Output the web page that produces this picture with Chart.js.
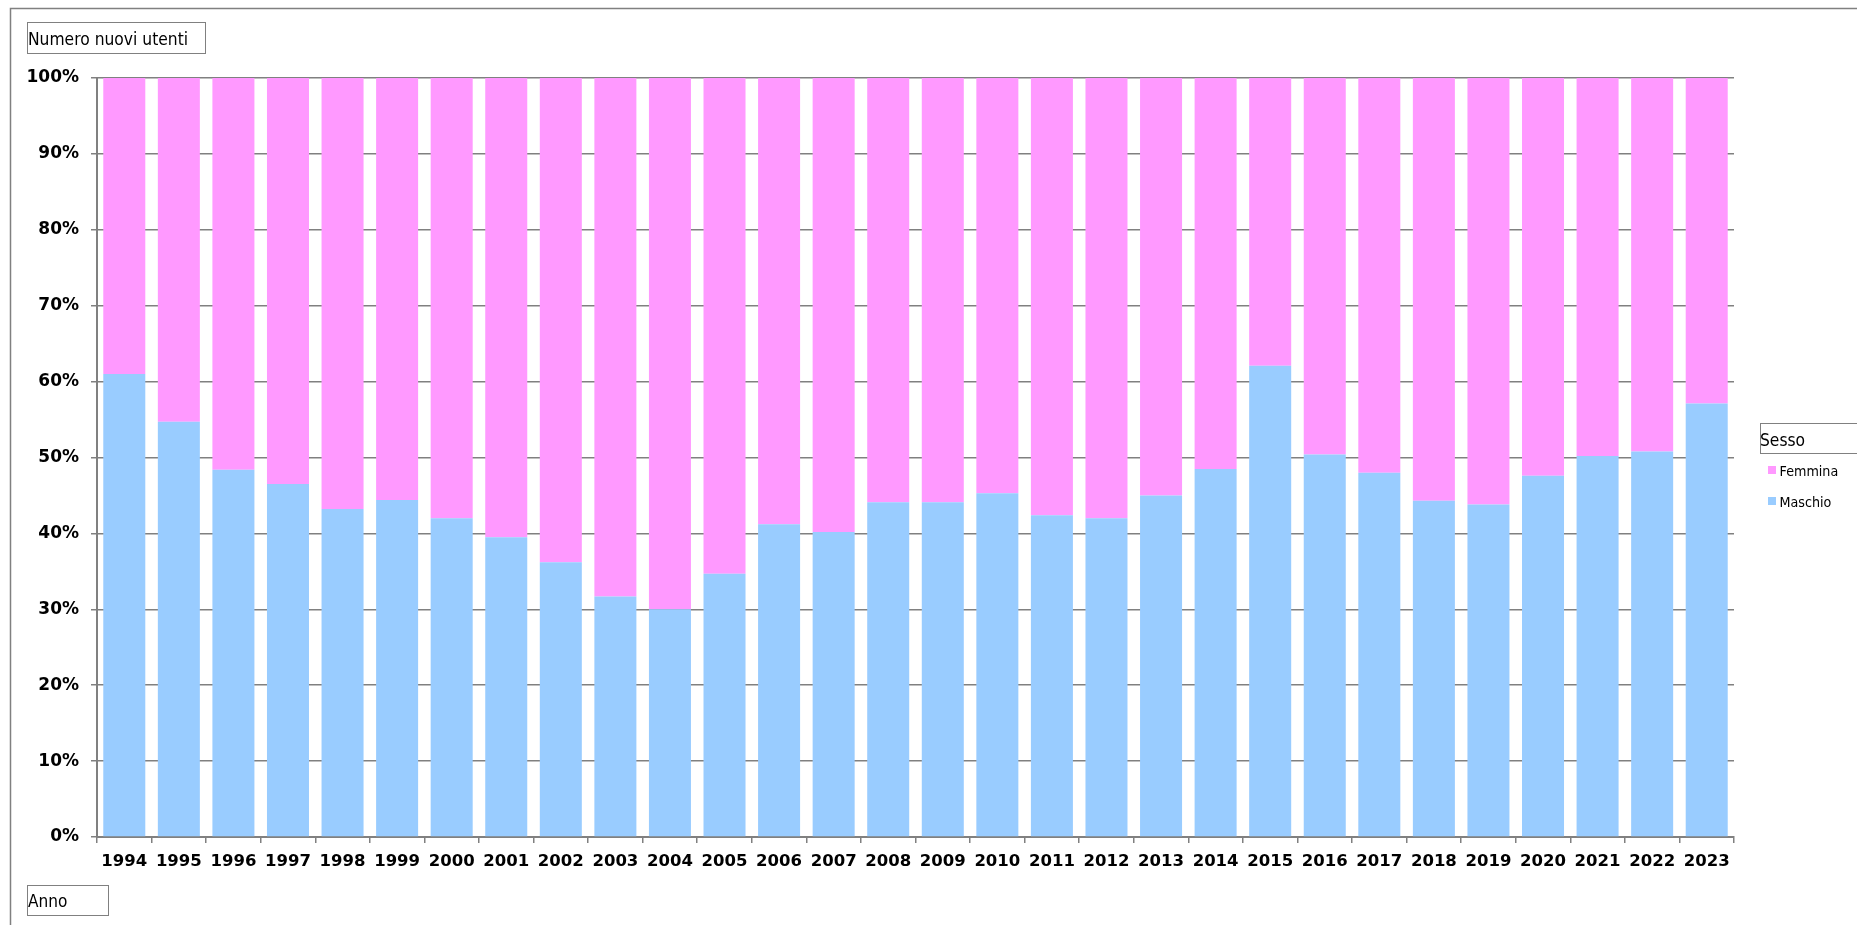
<!DOCTYPE html>
<html>
<head>
<meta charset="utf-8">
<script src="https://cdn.jsdelivr.net/npm/chart.js@4/dist/chart.umd.min.js"></script>
<style>
html,body{margin:0;padding:0;background:#fff;}
canvas{display:block;}
</style>
</head>
<body>
<canvas id="c" width="1857" height="925"></canvas>
<script>
const years = ['1994','1995','1996','1997','1998','1999','2000','2001','2002','2003','2004','2005','2006','2007','2008','2009','2010','2011','2012','2013','2014','2015','2016','2017','2018','2019','2020','2021','2022','2023'];
const maschio = [61.0, 54.7, 48.4, 46.5, 43.2, 44.4, 42.0, 39.5, 36.2, 31.7, 30.0, 34.7, 41.2, 40.2, 44.1, 44.1, 45.3, 42.4, 42.0, 45.0, 48.5, 62.1, 50.4, 48.0, 44.3, 43.8, 47.6, 50.2, 50.8, 57.1];
const femmina = [39.0, 45.3, 51.6, 53.5, 56.8, 55.6, 58.0, 60.5, 63.8, 68.3, 70.0, 65.3, 58.8, 59.8, 55.9, 55.9, 54.7, 57.6, 58.0, 55.0, 51.5, 37.9, 49.6, 52.0, 55.7, 56.2, 52.4, 49.8, 49.2, 42.9];
const seriesNames = ['Maschio', 'Femmina'];
const seriesColors = ['#99CCFF', '#FF99FF'];
const chartTitle = 'Numero nuovi utenti';
const xTitle = 'Anno';
const legendTitle = 'Sesso';

Chart.defaults.font.family = 'DejaVu Sans';

function txt(ctx, s, x, y, size, sx) {
  ctx.save();
  ctx.translate(x, y);
  ctx.scale(sx, 1);
  ctx.font = size + 'px "DejaVu Sans"';
  ctx.textAlign = 'left';
  ctx.textBaseline = 'alphabetic';
  ctx.fillText(s, 0, 0);
  ctx.restore();
}

const decor = {
  id: 'decor',
  afterDraw(chart) {
    const ctx = chart.ctx;
    ctx.save();
    ctx.strokeStyle = '#808080';
    ctx.lineWidth = 1.5;
    ctx.beginPath();
    ctx.moveTo(10.5, 925);
    ctx.lineTo(10.5, 8.5);
    ctx.lineTo(1857, 8.5);
    ctx.stroke();
    ctx.lineWidth = 1;
    ctx.strokeRect(27.5, 22.5, 178, 31);
    ctx.strokeRect(27.5, 885.5, 81, 30);
    ctx.strokeRect(1760.5, 423.5, 110, 30);
    ctx.fillStyle = '#000';
    txt(ctx, chartTitle, 28, 44.5, 18.5, 0.84);
    txt(ctx, xTitle, 28, 906.8, 18.5, 0.83);
    txt(ctx, legendTitle, 1760, 445.8, 18.5, 0.84);
    const ds = chart.data.datasets;
    const order = [1, 0];
    order.forEach((di, k) => {
      const top = 466 + k * 31;
      ctx.fillStyle = ds[di].backgroundColor;
      ctx.fillRect(1768, top, 8, 8);
      ctx.fillStyle = '#000';
      txt(ctx, ds[di].label, 1779.5, top + 9.5, 14, 0.91);
    });
    ctx.restore();
  }
};

new Chart(document.getElementById('c'), {
  type: 'bar',
  data: {
    labels: years,
    datasets: [
      { label: seriesNames[0], data: maschio, backgroundColor: seriesColors[0], borderWidth: 0 },
      { label: seriesNames[1], data: femmina, backgroundColor: seriesColors[1], borderWidth: 0 }
    ]
  },
  options: {
    responsive: false,
    animation: false,
    devicePixelRatio: 1,
    layout: { padding: { left: 20, top: 78, right: 123, bottom: 48 } },
    plugins: { legend: { display: false }, tooltip: { enabled: false }, title: { display: false } },
    datasets: { bar: { categoryPercentage: 1.0, barPercentage: 0.77 } },
    scales: {
      x: {
        stacked: true,
        afterFit(s) { s.height = 40; },
        grid: { display: true, drawOnChartArea: false, drawTicks: true, tickLength: 6, color: '#808080', lineWidth: 1.5, offset: true },
        border: { display: true, color: '#808080', width: 2 },
        ticks: { color: '#000', font: { size: 16.5, weight: 'bold' }, padding: 9, autoSkip: false, maxRotation: 0, minRotation: 0 }
      },
      y: {
        stacked: true,
        min: 0, max: 100,
        afterFit(s) { s.width = 77; },
        grid: { display: true, drawOnChartArea: true, drawTicks: true, tickLength: 6, color: '#808080', lineWidth: 1.5 },
        border: { display: true, color: '#808080', width: 2 },
        ticks: { stepSize: 10, color: '#000', font: { size: 17, weight: 'bold' }, padding: 12, callback: v => v + '%' }
      }
    }
  },
  plugins: [decor]
});
</script>
</body>
</html>
